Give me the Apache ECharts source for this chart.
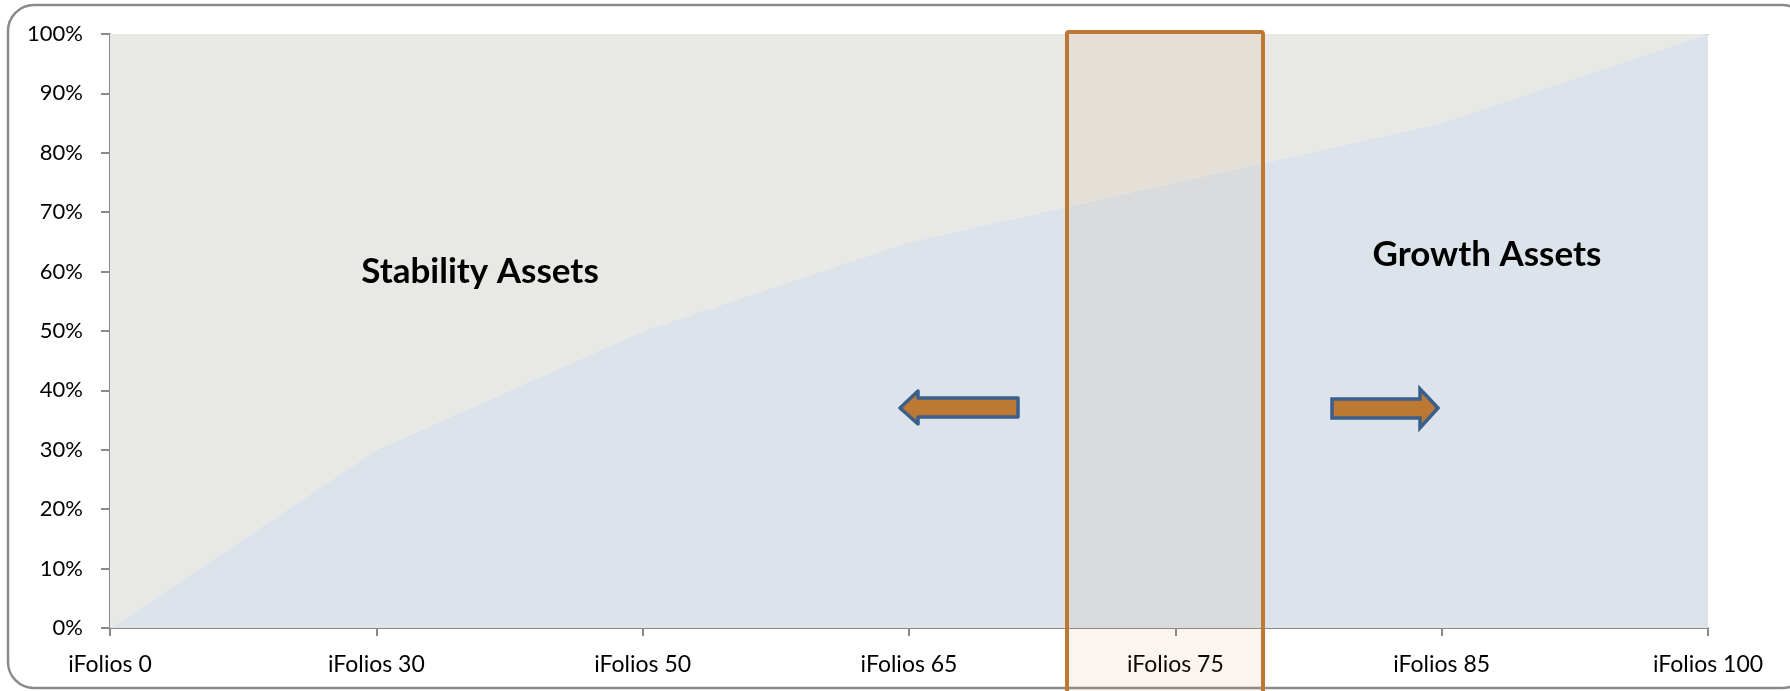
<!DOCTYPE html>
<html>
<head>
<meta charset="utf-8">
<title>iFolios</title>
<script src="https://cdn.jsdelivr.net/npm/echarts@6/dist/echarts.min.js"></script>
<style>
  html, body { margin: 0; padding: 0; background: #fff; }
  #chart { width: 1790px; height: 691px; }
</style>
</head>
<body>
<div id="chart"></div>
<script>
// 数据
const categories = ['iFolios 0', 'iFolios 30', 'iFolios 50', 'iFolios 65', 'iFolios 75', 'iFolios 85', 'iFolios 100'];
const growthValues = [0, 30, 50, 65, 75, 85, 100];
const stabilityValues = [100, 70, 50, 35, 25, 15, 0];
const yTicks = [0, 10, 20, 30, 40, 50, 60, 70, 80, 90, 100];

const axisGrey = '#8a8a8a';
const orange = '#bd7834';
const blue = '#3a5f8c';
const font = 'Lato, "Open Sans", sans-serif';

const chartInstance = echarts.init(document.getElementById('chart'));

const option = {
  animation: false,
  grid: { left: 110, right: 82, top: 34, bottom: 63 },
  xAxis: [
    {
      type: 'category',
      data: categories,
      boundaryGap: false,
      axisLine: { lineStyle: { color: axisGrey, width: 2 } },
      axisTick: { show: true, length: 8, lineStyle: { color: axisGrey, width: 2 } },
      axisLabel: { color: '#000', fontSize: 23, fontFamily: font, margin: 25 }
    },
    {
      // 顶部细线
      type: 'category',
      data: categories,
      boundaryGap: false,
      position: 'top',
      axisLine: { lineStyle: { color: axisGrey, width: 1 } },
      axisTick: { show: false },
      axisLabel: { show: false }
    }
  ],
  yAxis: {
    type: 'value',
    min: yTicks[0],
    max: yTicks[yTicks.length - 1],
    interval: 10,
    axisLine: { show: true, lineStyle: { color: axisGrey, width: 2 } },
    axisTick: { show: true, length: 9, lineStyle: { color: axisGrey, width: 2 } },
    splitLine: { show: false },
    axisLabel: { color: '#000', fontSize: 22, fontFamily: font, margin: 27, formatter: '{value}%' }
  },
  series: [
    {
      name: 'Growth Assets',
      type: 'line',
      stack: 'Total',
      data: growthValues,
      showSymbol: false,
      lineStyle: { width: 0 },
      areaStyle: { color: '#dce3ea', opacity: 1 }
    },
    {
      name: 'Stability Assets',
      type: 'line',
      stack: 'Total',
      data: stabilityValues,
      showSymbol: false,
      lineStyle: { width: 0 },
      areaStyle: { color: '#e8e8e4', opacity: 1 }
    }
  ],
  graphic: [
    // 外框
    {
      type: 'rect',
      z: 100,
      shape: { x: 8, y: 5, width: 1800, height: 683, r: 26 },
      style: { fill: 'none', stroke: axisGrey, lineWidth: 2.5 }
    },
    // 橙色框
    {
      type: 'rect',
      z: 100,
      shape: { x: 1067, y: 32, width: 196, height: 700, r: 2 },
      style: { fill: 'rgba(189,120,52,0.07)', stroke: orange, lineWidth: 4 }
    },
    // 左箭头
    {
      type: 'polygon',
      z: 101,
      shape: { points: [[900, 408], [918, 391], [918, 398], [1018, 398], [1018, 417], [918, 417], [918, 424]] },
      style: { fill: orange, stroke: blue, lineWidth: 3.5, lineJoin: 'round' }
    },
    // 右箭头
    {
      type: 'polygon',
      z: 101,
      shape: { points: [[1438, 408], [1420, 389], [1420, 399], [1332, 399], [1332, 418], [1420, 418], [1420, 428]] },
      style: { fill: orange, stroke: blue, lineWidth: 3.5, lineJoin: 'miter' }
    },
    {
      type: 'text',
      z: 101,
      style: {
        text: 'Stability Assets', x: 480, y: 272, align: 'center', verticalAlign: 'middle',
        font: 'bold 35px ' + font, fill: '#000'
      }
    },
    {
      type: 'text',
      z: 101,
      style: {
        text: 'Growth Assets', x: 1487, y: 255, align: 'center', verticalAlign: 'middle',
        font: 'bold 35px ' + font, fill: '#000'
      }
    }
  ]
};

chartInstance.setOption(option);
</script>
</body>
</html>
